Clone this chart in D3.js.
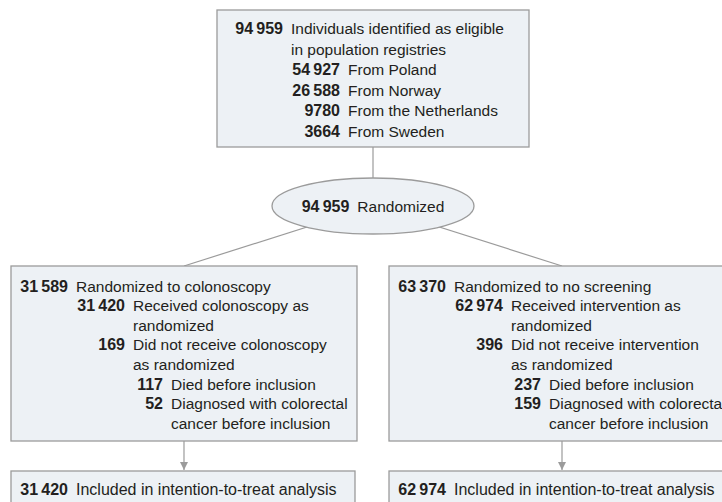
<!DOCTYPE html>
<html>
<head>
<meta charset="utf-8">
<script src="https://cdn.jsdelivr.net/npm/d3@7"></script>
<style>
  body { margin: 0; background: #fff; }
  svg text { font-family: "Liberation Sans", Arial, sans-serif; font-size: 15.5px; fill: #231f20; }
  svg .num { font-weight: bold; font-size: 16px; }
</style>
</head>
<body>
<svg id="chart" width="722" height="502"></svg>
<script>
// values
var eligibleTotal = 94959;
var countries = ["Poland", "Norway", "the Netherlands", "Sweden"];
var countryCounts = [54927, 26588, 9780, 3664];
var randomizedTotal = 94959;
var arms = ["colonoscopy", "no screening"];
var armTotals = [31589, 63370];
var received = [31420, 62974];
var receivedLabels = [["Received colonoscopy as", "randomized"], ["Received intervention as", "randomized"]];
var notReceived = [169, 396];
var notReceivedLabels = [["Did not receive colonoscopy", "as randomized"], ["Did not receive intervention", "as randomized"]];
var died = [117, 237];
var diagnosed = [52, 159];
var ittCounts = [31420, 62974];

var fill = "#edf1f5", stroke = "#9b9b9b";

function fmt(n) {
	var s = String(n);
	return s.length > 4 ? s.slice(0, -3) + "\u2009" + s.slice(-3) : s;
}

var svg = d3.select("#chart");

svg.append("defs").append("marker")
	.attr("id", "arrow")
	.attr("viewBox", "0 0 10 10")
	.attr("refX", 10).attr("refY", 5)
	.attr("markerWidth", 8).attr("markerHeight", 8)
	.attr("markerUnits", "userSpaceOnUse")
	.attr("orient", "auto")
	.append("path")
	.attr("d", "M0,0L10,5L0,10Z")
	.attr("fill", stroke);

// layout
var x = d3.scaleBand().domain(arms).range([11, 735]).paddingInner(0.0847);
var cx = 373;
var topBox = {x: 217, y: 10, w: 312, h: 137};
var ell = {cy: 206, rx: 101, ry: 28};
var armY = 266, armH = 175;
var ittY = 471, ittH = 40;
var lineGap = 19.6;

// connectors (drawn first so boxes sit on top)
var links = svg.append("g").attr("stroke", stroke).attr("stroke-width", 1.2).attr("fill", "none");
links.append("line")
	.attr("x1", cx).attr("x2", cx)
	.attr("y1", topBox.y + topBox.h).attr("y2", ell.cy);
arms.forEach(function(a) {
	var mx = x(a) + x.bandwidth() / 2;
	links.append("line")
		.attr("x1", cx).attr("y1", ell.cy)
		.attr("x2", mx).attr("y2", armY);
	links.append("line")
		.attr("x1", mx).attr("y1", armY + armH)
		.attr("x2", mx).attr("y2", ittY - 1)
		.attr("marker-end", "url(#arrow)");
});

function box(x0, y0, w, h) {
	svg.append("rect")
		.attr("x", x0).attr("y", y0)
		.attr("width", w).attr("height", h)
		.attr("fill", fill).attr("stroke", stroke).attr("stroke-width", 1.3);
}

function row(g, numRight, y, n, label) {
	if (n != null) {
		g.append("text").attr("class", "num")
			.attr("x", numRight).attr("y", y)
			.attr("text-anchor", "end")
			.text(fmt(n));
	}
	g.append("text")
		.attr("x", numRight + 8).attr("y", y)
		.text(label);
}

// top box
box(topBox.x, topBox.y, topBox.w, topBox.h);
var gt = svg.append("g");
row(gt, topBox.x + 66, 34, eligibleTotal, "Individuals identified as eligible");
row(gt, topBox.x + 66, 54.5, null, "in population registries");
countries.forEach(function(c, i) {
	row(gt, topBox.x + 123, 75 + i * 20.5, countryCounts[i], "From " + c);
});

// randomized ellipse
svg.append("ellipse")
	.attr("cx", cx).attr("cy", ell.cy)
	.attr("rx", ell.rx).attr("ry", ell.ry)
	.attr("fill", fill).attr("stroke", stroke).attr("stroke-width", 1.3);
svg.append("text")
	.attr("x", cx).attr("y", ell.cy + 6)
	.attr("text-anchor", "middle")
	.call(function(t) {
		t.append("tspan").attr("class", "num").text(fmt(randomizedTotal));
		t.append("tspan").attr("dx", 8).text("Randomized");
	});

// arm boxes
arms.forEach(function(a, i) {
	var x0 = x(a);
	box(x0, armY, x.bandwidth(), armH);
	var rows = [
		{n: armTotals[i], t: "Randomized to " + a, lvl: 0},
		{n: received[i], t: receivedLabels[i][0], lvl: 1},
		{n: null, t: receivedLabels[i][1], lvl: 1},
		{n: notReceived[i], t: notReceivedLabels[i][0], lvl: 1},
		{n: null, t: notReceivedLabels[i][1], lvl: 1},
		{n: died[i], t: "Died before inclusion", lvl: 2},
		{n: diagnosed[i], t: "Diagnosed with colorectal", lvl: 2},
		{n: null, t: "cancer before inclusion", lvl: 2}
	];
	var offs = [57, 114, 152];
	var g = svg.append("g");
	rows.forEach(function(r, j) {
		row(g, x0 + offs[r.lvl], armY + 25.5 + j * lineGap, r.n, r.t);
	});

	box(x0, ittY, x.bandwidth() - 2, ittH);
	var gi = svg.append("g");
	row(gi, x0 + 57, ittY + 24, ittCounts[i], "Included in intention-to-treat analysis");
	gi.select("text:last-child").style("font-size", "16px");
});
</script>
</body>
</html>
